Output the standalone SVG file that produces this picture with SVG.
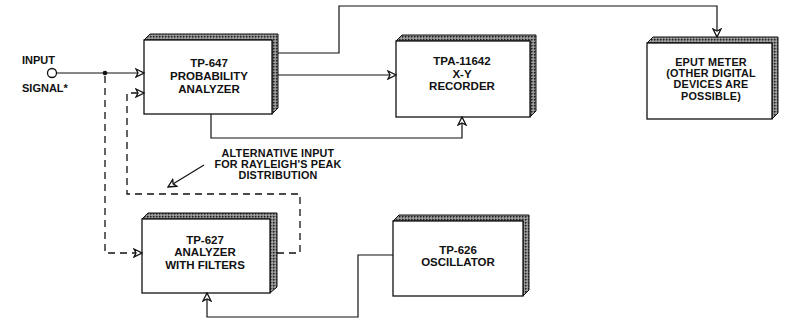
<svg xmlns="http://www.w3.org/2000/svg" width="787" height="326" viewBox="0 0 787 326">
<defs>
<marker id="arr" viewBox="0 0 10 10" refX="9" refY="5" markerWidth="10" markerHeight="10" markerUnits="userSpaceOnUse" orient="auto">
<path d="M1,1 L9,5 L1,9 L3,5 Z" fill="#fff" stroke="#111" stroke-width="1.3"/>
</marker>
<pattern id="stip" width="3" height="3" patternUnits="userSpaceOnUse">
<rect width="3" height="3" fill="#888"/>
<rect x="0" y="0" width="1.5" height="1.5" fill="#222"/>
<rect x="1.5" y="1.5" width="1" height="1" fill="#ddd"/>
</pattern>
</defs>
<style>
.face{fill:#fff;stroke:#111;stroke-width:1.3}
.side{fill:url(#stip);stroke:#111;stroke-width:1}
.t{font-family:"Liberation Sans",Arial,Helvetica,sans-serif;font-weight:bold;font-size:11.5px;fill:#111;text-anchor:middle}
.tn{font-family:"Liberation Sans",Arial,Helvetica,sans-serif;font-weight:bold;font-size:10.8px;letter-spacing:0.2px;fill:#111;text-anchor:middle}
.ts{font-family:"Liberation Sans",Arial,Helvetica,sans-serif;font-weight:bold;font-size:11px;fill:#111}
.w{fill:none;stroke:#111;stroke-width:1.2}
.d{fill:none;stroke:#111;stroke-width:1.3;stroke-dasharray:7,5}
</style>
<rect width="787" height="326" fill="#fff"/>

<g id="input">
<circle cx="52" cy="73" r="4.5" fill="#fff" stroke="#111" stroke-width="1.3"/>
<text class="ts" x="22" y="64">INPUT</text>
<text class="ts" x="22" y="92">SIGNAL*</text>
</g>

<g id="tp647">
<path class="side" d="M144,40 L150,34 L278,34 L278,108 L272,114 L272,40 Z"/>
<rect class="face" x="144" y="40" width="128" height="74"/>
<text class="t" x="209" y="67">TP-647</text>
<text class="t" x="209" y="80">PROBABILITY</text>
<text class="t" x="209" y="93">ANALYZER</text>
</g>

<g id="tpa11642">
<path class="side" d="M396,41 L402,35 L536,35 L536,111 L530,117 L530,41 Z"/>
<rect class="face" x="396" y="41" width="134" height="76"/>
<text class="t" x="462" y="65">TPA-11642</text>
<text class="t" x="462" y="77.5">X-Y</text>
<text class="t" x="462" y="90">RECORDER</text>
</g>

<g id="eput">
<path class="side" d="M647,43 L653,37 L778,37 L778,113 L772,119 L772,43 Z"/>
<rect class="face" x="647" y="43" width="125" height="76"/>
<text class="tn" x="711" y="66">EPUT METER</text>
<text class="tn" x="711" y="77.2">(OTHER DIGITAL</text>
<text class="tn" x="711" y="88.4">DEVICES ARE</text>
<text class="tn" x="711" y="99.6">POSSIBLE)</text>
</g>

<g id="tp627">
<path class="side" d="M142,219 L148,213 L277,213 L277,287 L270,293 L270,219 Z"/>
<rect class="face" x="142" y="219" width="128" height="74"/>
<text class="t" x="205" y="243.5">TP-627</text>
<text class="t" x="205" y="256">ANALYZER</text>
<text class="t" x="205" y="268.5">WITH FILTERS</text>
</g>

<g id="tp626">
<path class="side" d="M393,221 L399,215 L529,215 L529,290 L523,296 L523,221 Z"/>
<rect class="face" x="393" y="221" width="130" height="75"/>
<text class="t" x="458" y="253.5">TP-626</text>
<text class="t" x="458" y="266">OSCILLATOR</text>
</g>

<g id="label">
<text class="tn" x="278" y="157">ALTERNATIVE INPUT</text>
<text class="tn" x="278" y="168.2">FOR RAYLEIGH'S PEAK</text>
<text class="tn" x="278" y="179.4">DISTRIBUTION</text>
</g>

<g id="connectors">
<path class="w" d="M56.5,73 H144" marker-end="url(#arr)"/>
<circle cx="105" cy="73" r="2.3" fill="#111"/>
<path class="d" d="M105,76 V253 H142" marker-end="url(#arr)"/>
<path class="d" d="M277,253 H300 V194 H127 V93 H144" marker-end="url(#arr)"/>
<path class="w" d="M278,53 H339 V6 H717 V37" marker-end="url(#arr)"/>
<path class="w" d="M278,75 H396" marker-end="url(#arr)"/>
<path class="w" d="M211,114 V138 H462 V117" marker-end="url(#arr)"/>
<path class="w" d="M393,255 H358 V317 H207 V293" marker-end="url(#arr)"/>
<path class="w" d="M204,165 L168,187" marker-end="url(#arr)"/>
</g>
</svg>
